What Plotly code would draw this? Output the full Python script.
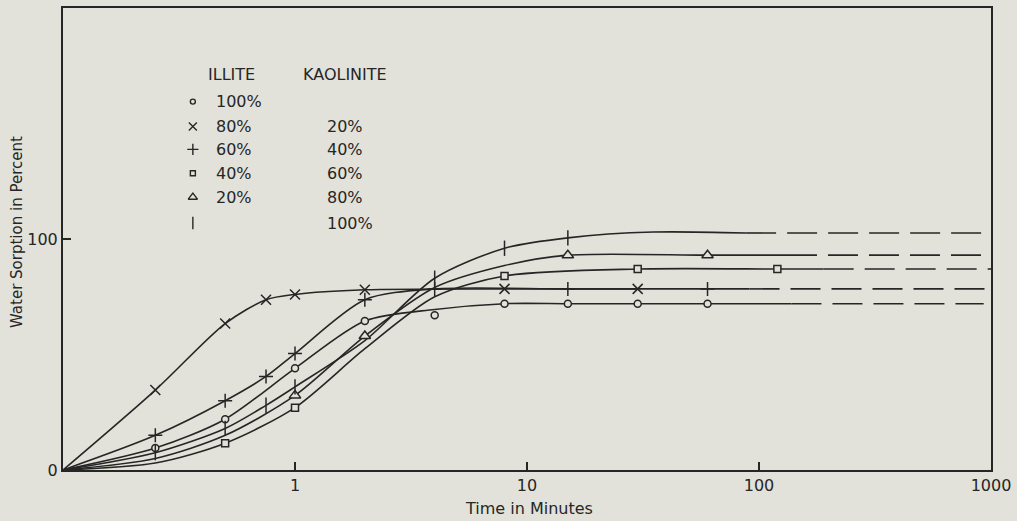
import plotly.graph_objects as go

BG = "#e2e2da"
INK = "#262626"
FONT = "DejaVu Sans"

# ---- axes -------------------------------------------------------------
X_TICKS = [1, 10, 100, 1000]
X_TICK_TEXT = ["1", "10", "100", "1000"]
Y_TICKS = [0, 100]
Y_TICK_TEXT = ["0", "100"]

# ---- measured points (time in minutes, water sorption in percent) ----
# Illite 100 %
ILL100_T = [0.25, 0.5, 1, 2, 4, 8, 15, 30, 60]
ILL100_V = [9.5, 22, 44, 64.5, 67, 72, 72, 72, 72]
# Illite 80 % / Kaolinite 20 %
ILL80_T = [0.25, 0.5, 0.75, 1, 2, 8, 30]
ILL80_V = [34.6, 63.4, 73.7, 76, 78, 78.4, 78.4]
# Illite 60 % / Kaolinite 40 %
ILL60_T = [0.25, 0.5, 0.75, 1, 2, 4, 15, 60]
ILL60_V = [15, 30, 40.5, 50.4, 73.7, 78.4, 78.4, 78.4]
# Illite 40 % / Kaolinite 60 %
ILL40_T = [0.5, 1, 8, 30, 120]
ILL40_V = [11.6, 27, 84, 87, 87]
# Illite 20 % / Kaolinite 80 %
ILL20_T = [1, 2, 15, 60]
ILL20_V = [32.3, 58, 93, 93]
# Kaolinite 100 %
KAO100_T = [0.25, 0.5, 0.75, 1, 4, 8, 15]
KAO100_V = [7.5, 18, 28, 36, 83, 96, 100.5]

# ---- fitted curves (solid part) ----------------------------------------
ILL100_CURVE_T = [0.1, 0.25, 0.5, 1, 2, 4, 8, 15, 30, 60, 138]
ILL100_CURVE_V = [0, 9.5, 22, 44, 64.5, 69.5, 72, 72, 72, 72, 72]
ILL80_CURVE_T = [0.1, 0.25, 0.5, 0.75, 1, 2, 8, 30]
ILL80_CURVE_V = [0, 34.6, 63.4, 73.7, 76, 78, 78.4, 78.4]
ILL60_CURVE_T = [0.1, 0.25, 0.5, 0.75, 1, 2, 4, 15, 60, 91]
ILL60_CURVE_V = [0, 15, 30, 40.5, 50.4, 73.7, 78.4, 78.4, 78.4, 78.4]
ILL40_CURVE_T = [0.1, 0.25, 0.5, 1, 2, 4, 8, 30, 120, 190]
ILL40_CURVE_V = [0, 3, 11.6, 27, 52.5, 75, 84, 87, 87, 87]
ILL20_CURVE_T = [0.1, 0.25, 0.5, 1, 2, 4, 8, 15, 60, 132]
ILL20_CURVE_V = [0, 5, 15, 32.3, 58, 79, 88.5, 93, 93, 93]
KAO100_CURVE_T = [0.1, 0.25, 0.5, 0.75, 1, 2, 4, 8, 15, 35, 88]
KAO100_CURVE_V = [0, 7.5, 18, 28, 36, 56, 83, 96, 100.5, 103, 102.6]

# ---- extrapolated plateaus (dashed part): start, end, level -------------
ILL100_DASH = ([138, 930], 72)
ILL60_DASH = ([91, 1000], 78.4)
ILL40_DASH = ([190, 1000], 87)
ILL20_DASH = ([132, 1000], 93)
KAO100_DASH = ([88, 1000], 102.6)

# ---- legend text ----------------------------------------------------------
HEAD_ILLITE = "ILLITE"
HEAD_KAOLINITE = "KAOLINITE"
ILLITE_PCT = ["100%", "80%", "60%", "40%", "20%", ""]
KAOLINITE_PCT = ["", "20%", "40%", "60%", "80%", "100%"]

LINE_W = 1.6

SERIES = [
    # (marker t, marker v, curve t, curve v, dash, symbol, size, filled)
    (ILL100_T, ILL100_V, ILL100_CURVE_T, ILL100_CURVE_V, ILL100_DASH, "circle", 7, True),
    (ILL80_T, ILL80_V, ILL80_CURVE_T, ILL80_CURVE_V, None, "x-thin", 10, False),
    (ILL60_T, ILL60_V, ILL60_CURVE_T, ILL60_CURVE_V, ILL60_DASH, "cross-thin", 10, False),
    (ILL40_T, ILL40_V, ILL40_CURVE_T, ILL40_CURVE_V, ILL40_DASH, "square", 7, True),
    (ILL20_T, ILL20_V, ILL20_CURVE_T, ILL20_CURVE_V, ILL20_DASH, "triangle-up", 10, True),
    (KAO100_T, KAO100_V, KAO100_CURVE_T, KAO100_CURVE_V, KAO100_DASH, "line-ns", 11, False),
]

fig = go.Figure()

# curves first
for mt, mv, ct, cv, dash, sym, size, filled in SERIES:
    fig.add_trace(go.Scatter(
        x=ct, y=cv, mode="lines", line=dict(color=INK, width=LINE_W, shape="spline", smoothing=0.8),
        hoverinfo="skip", showlegend=False))
    if dash is not None:
        (t0, t1), level = dash
        fig.add_trace(go.Scatter(
            x=[t0, t1], y=[level, level], mode="lines",
            line=dict(color=INK, width=LINE_W, dash="30px,11px"),
            hoverinfo="skip", showlegend=False))

# measured points on top
for mt, mv, ct, cv, dash, sym, size, filled in SERIES:
    fig.add_trace(go.Scatter(
        x=mt, y=mv, mode="markers",
        marker=dict(symbol=sym, size=size, color=BG if filled else INK,
                    line=dict(color=INK, width=1.5)),
        showlegend=False))

# legend key, laid out on an overlay axis measured in pixels
KEY_X = 193
KEY_ROWS = [100, 125, 148, 172, 196, 222]
for (mt, mv, ct, cv, dash, sym, size, filled), ry in zip(SERIES, KEY_ROWS):
    fig.add_trace(go.Scatter(
        x=[KEY_X], y=[ry], xaxis="x2", yaxis="y2", mode="markers",
        marker=dict(symbol=sym, size=size - 2, color=BG if filled else INK,
                    line=dict(color=INK, width=1.4)),
        hoverinfo="skip", showlegend=False))

annotations = []
txt_font = dict(family=FONT, size=16, color=INK)
annotations.append(dict(x=206, y=73, xref="x2", yref="y2", text=HEAD_ILLITE, showarrow=False,
                        xanchor="left", yanchor="middle", font=txt_font))
annotations.append(dict(x=301, y=73, xref="x2", yref="y2", text=HEAD_KAOLINITE, showarrow=False,
                        xanchor="left", yanchor="middle", font=txt_font))
for ry, a, b in zip(KEY_ROWS, ILLITE_PCT, KAOLINITE_PCT):
    if a:
        annotations.append(dict(x=214, y=ry, xref="x2", yref="y2", text=a, showarrow=False,
                                xanchor="left", yanchor="middle", font=txt_font))
    if b:
        annotations.append(dict(x=325, y=ry, xref="x2", yref="y2", text=b, showarrow=False,
                                xanchor="left", yanchor="middle", font=txt_font))

# axis titles
annotations.append(dict(x=(530 - 63) / 929, y=0, xref="paper", yref="paper", yshift=-38,
                        text="Time in Minutes", showarrow=False,
                        xanchor="center", yanchor="middle", font=txt_font))
annotations.append(dict(x=0, xref="paper", xshift=-46, y=(470 - 231) / 464, yref="paper",
                        text="Water Sorption in Percent", textangle=-90, showarrow=False,
                        xanchor="center", yanchor="middle", font=dict(family=FONT, size=15, color=INK)))

fig.update_layout(
    width=1017, height=521,
    margin=dict(l=63, r=25, t=6, b=51),
    paper_bgcolor=BG, plot_bgcolor=BG,
    font=dict(family=FONT, size=16, color=INK),
    annotations=annotations,
    xaxis=dict(type="log", range=[-1, 3], tickvals=X_TICKS, ticktext=X_TICK_TEXT,
               ticks="inside", ticklen=8, tickwidth=1.5, tickcolor=INK,
               showline=True, mirror=True, linewidth=2, linecolor=INK,
               showgrid=False, zeroline=False, tickfont=dict(size=16)),
    yaxis=dict(range=[0, 200], tickvals=Y_TICKS, ticktext=Y_TICK_TEXT,
               ticks="inside", ticklen=8, tickwidth=1.5, tickcolor=INK,
               showline=True, mirror=True, linewidth=2, linecolor=INK,
               showgrid=False, zeroline=False, tickfont=dict(size=16)),
    xaxis2=dict(overlaying="x", range=[63, 992], visible=False, anchor="y2"),
    yaxis2=dict(overlaying="y", range=[470, 6], visible=False, anchor="x2"),
)

fig.write_html("out.html")
